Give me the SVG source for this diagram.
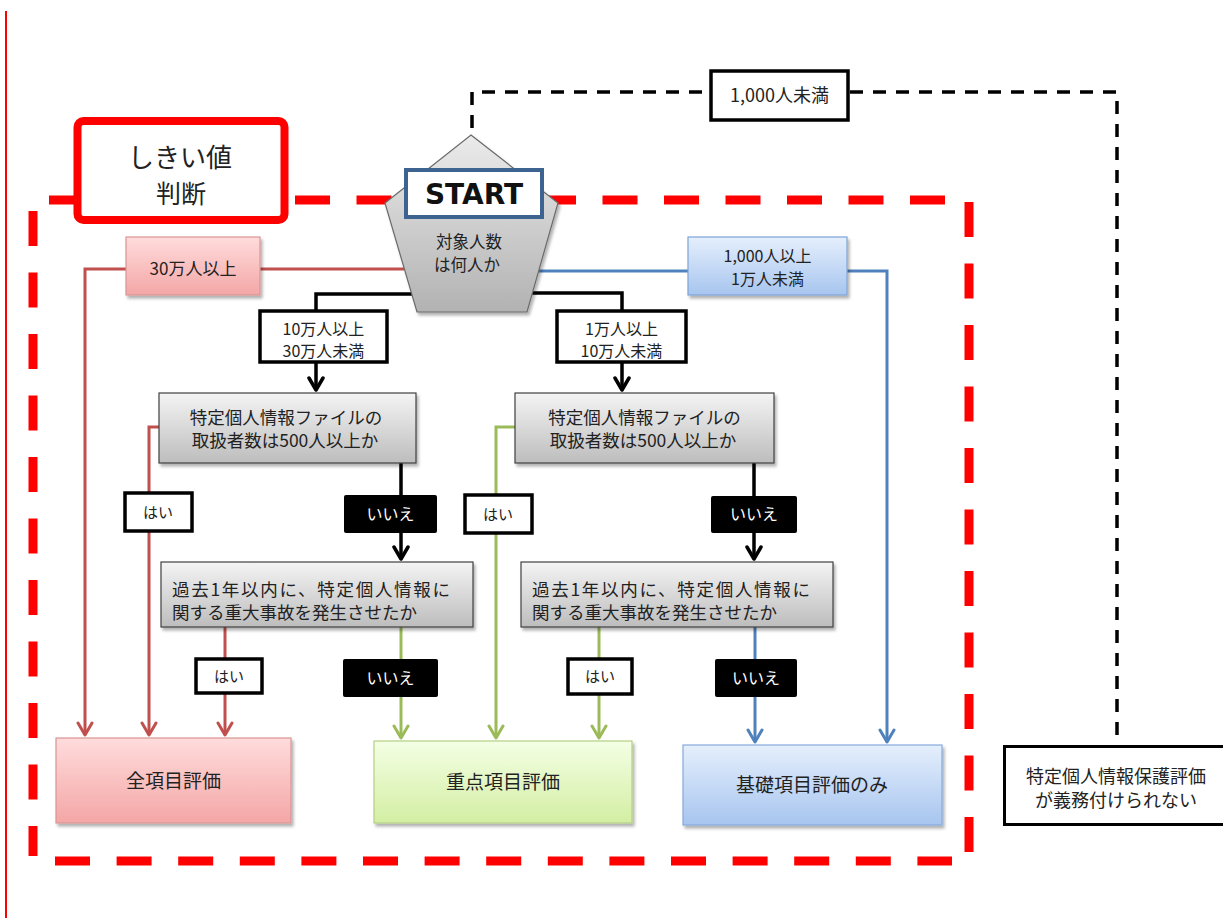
<svg xmlns="http://www.w3.org/2000/svg" width="1223" height="918" viewBox="0 0 1223 918">
  <defs>
    <linearGradient id="gGray" x1="0" y1="0" x2="0" y2="1">
      <stop offset="0" stop-color="#f4f4f4"/>
      <stop offset="1" stop-color="#bdbdbd"/>
    </linearGradient>
    <linearGradient id="gPent" x1="0" y1="0" x2="0" y2="1">
      <stop offset="0" stop-color="#ebebeb"/>
      <stop offset="1" stop-color="#b2b2b2"/>
    </linearGradient>
    <linearGradient id="gPink" x1="0" y1="0" x2="0" y2="1">
      <stop offset="0" stop-color="#ffdcdc"/>
      <stop offset="1" stop-color="#f4a6a6"/>
    </linearGradient>
    <linearGradient id="gGreen" x1="0" y1="0" x2="0" y2="1">
      <stop offset="0" stop-color="#f4ffe4"/>
      <stop offset="1" stop-color="#d3eea3"/>
    </linearGradient>
    <linearGradient id="gBlue" x1="0" y1="0" x2="0" y2="1">
      <stop offset="0" stop-color="#e5effc"/>
      <stop offset="1" stop-color="#a7c5ef"/>
    </linearGradient>
    <filter id="shadow" x="-10%" y="-10%" width="130%" height="140%">
      <feDropShadow dx="2" dy="3" stdDeviation="1.5" flood-color="#000" flood-opacity="0.3"/>
    </filter>
    <marker id="aRed" viewBox="-14 -9 16 18" refX="0" refY="0" markerWidth="16" markerHeight="18" markerUnits="userSpaceOnUse" orient="auto">
      <path d="M-12,-7 L0,0 L-12,7" fill="none" stroke="#c0504d" stroke-width="3" stroke-linejoin="round" stroke-linecap="round"/>
    </marker>
    <marker id="aGreen" viewBox="-14 -9 16 18" refX="0" refY="0" markerWidth="16" markerHeight="18" markerUnits="userSpaceOnUse" orient="auto">
      <path d="M-12,-7 L0,0 L-12,7" fill="none" stroke="#9bbb59" stroke-width="3" stroke-linejoin="round" stroke-linecap="round"/>
    </marker>
    <marker id="aBlue" viewBox="-14 -9 16 18" refX="0" refY="0" markerWidth="16" markerHeight="18" markerUnits="userSpaceOnUse" orient="auto">
      <path d="M-12,-7 L0,0 L-12,7" fill="none" stroke="#4f81bd" stroke-width="3" stroke-linejoin="round" stroke-linecap="round"/>
    </marker>
    <marker id="aBlack" viewBox="-14 -9 16 18" refX="0" refY="0" markerWidth="16" markerHeight="18" markerUnits="userSpaceOnUse" orient="auto">
      <path d="M-12,-7 L0,0 L-12,7" fill="none" stroke="#000" stroke-width="3.5" stroke-linejoin="round" stroke-linecap="round"/>
    </marker>
  </defs>
  <style>
    text { font-family: "Noto Sans CJK JP", "Noto Sans", sans-serif; fill: #222; }
    .c { text-anchor: middle; }
    .ln { fill: none; stroke-width: 3; }
    .red { stroke: #c0504d; }
    .green { stroke: #9bbb59; }
    .blue { stroke: #4f81bd; }
    .black { stroke: #000; stroke-width: 3.5; }
    .frame { fill: none; stroke: #ff0000; stroke-width: 9; }
    .lbl { fill: #fff; stroke: #000; stroke-width: 3.5; }
    .neg { fill: #000; }
    .negt { fill: #fff; font-size: 16px; text-anchor: middle; }
    .yes { font-size: 15px; text-anchor: middle; }
    .q { fill: url(#gGray); stroke: #404040; stroke-width: 1.2; filter: url(#shadow); }
    .qt { font-size: 17.5px; }
    .lt { font-size: 16px; }
    .res { font-size: 19px; text-anchor: middle; }
    .start { font-family: "DejaVu Sans", sans-serif; font-weight: bold; font-size: 28px; fill: #111; text-anchor: middle; }
  </style>

  <rect width="1223" height="918" fill="#fff"/>

  <!-- page margin rule -->
  <line x1="6" y1="11" x2="6" y2="918" stroke="#ff0000" stroke-width="2"/>

  <!-- dashed threshold frame -->
  <g id="threshold-frame" class="frame">
    <path d="M49 200 H946" stroke-dasharray="35 26.5"/>
    <path d="M969 202 V852" stroke-dasharray="35 26.5"/>
    <path d="M55 861 H952" stroke-dasharray="35 26.6"/>
    <path d="M33 211 V856" stroke-dasharray="35 26.5"/>
  </g>

  <!-- connectors -->
  <g id="connectors">
    <path class="ln red" d="M404 269 H85 V735" marker-end="url(#aRed)"/>
    <path class="ln red" d="M159 427 H149 V735" marker-end="url(#aRed)"/>
    <path class="ln red" d="M225 627 V735" marker-end="url(#aRed)"/>

    <path class="ln green" d="M401 627 V738" marker-end="url(#aGreen)"/>
    <path class="ln green" d="M515 427 H496 V738" marker-end="url(#aGreen)"/>
    <path class="ln green" d="M599 627 V738" marker-end="url(#aGreen)"/>

    <path class="ln blue" d="M539 271 H887 V742" marker-end="url(#aBlue)"/>
    <path class="ln blue" d="M755 627 V742" marker-end="url(#aBlue)"/>

    <path class="ln black" d="M412 294 H316 V390" marker-end="url(#aBlack)"/>
    <path class="ln black" d="M532 293 H622 V390" marker-end="url(#aBlack)"/>
    <path class="ln black" d="M401 463 V559" marker-end="url(#aBlack)"/>
    <path class="ln black" d="M754 463 V559" marker-end="url(#aBlack)"/>

    <path class="ln black" d="M472 128 V92 H1117 V746" stroke-width="3" stroke-dasharray="13 10"/>

    <!-- branch labels -->
    <rect x="126" y="237" width="134" height="58" fill="url(#gPink)" stroke="#d99594" stroke-width="1.2" filter="url(#shadow)"/>
    <text class="c" x="193" y="275" font-size="17">30万人以上</text>

    <rect x="688" y="237" width="159" height="58" fill="url(#gBlue)" stroke="#7fa3d6" stroke-width="1.2" filter="url(#shadow)"/>
    <text class="c lt" x="767.5" y="262">1,000人以上</text>
    <text class="c lt" x="767.5" y="285">1万人未満</text>

    <rect class="lbl" x="260" y="311" width="127" height="51"/>
    <text class="c lt" x="323.5" y="335">10万人以上</text>
    <text class="c lt" x="323.5" y="357">30万人未満</text>

    <rect class="lbl" x="557" y="311" width="129" height="51"/>
    <text class="c lt" x="621.5" y="335">1万人以上</text>
    <text class="c lt" x="621.5" y="357">10万人未満</text>

    <rect class="lbl" x="711" y="71" width="137" height="49" stroke-width="3"/>
    <text class="c" x="779.5" y="102" font-size="18">1,000人未満</text>

    <rect class="lbl" x="125" y="493" width="67" height="38" stroke-width="3"/>
    <text class="yes" x="158" y="518">はい</text>
    <rect class="lbl" x="465" y="495" width="67" height="38" stroke-width="3"/>
    <text class="yes" x="498" y="520">はい</text>
    <rect class="lbl" x="196" y="659" width="66" height="34" stroke-width="3"/>
    <text class="yes" x="229" y="682">はい</text>
    <rect class="lbl" x="568" y="659" width="64" height="35" stroke-width="3"/>
    <text class="yes" x="600" y="682">はい</text>

    <rect class="neg" x="344" y="495" width="93" height="38" rx="2"/>
    <text class="negt" x="390.5" y="520">いいえ</text>
    <rect class="neg" x="711" y="496" width="86" height="37" rx="2"/>
    <text class="negt" x="754" y="520">いいえ</text>
    <rect class="neg" x="343" y="659" width="95" height="38" rx="2"/>
    <text class="negt" x="390.5" y="684">いいえ</text>
    <rect class="neg" x="715" y="659" width="82" height="38" rx="2"/>
    <text class="negt" x="756" y="684">いいえ</text>
  </g>

  <!-- threshold heading -->
  <g id="threshold-label">
    <rect x="77.5" y="121" width="207" height="99" rx="6" fill="#fff" stroke="#ff0000" stroke-width="8"/>
    <text class="c" x="180" y="167" font-size="26">しきい値</text>
    <text class="c" x="181" y="203" font-size="25">判断</text>
  </g>

  <!-- start node -->
  <g id="start">
    <polygon points="471,135 558,203 527,312 417,312 385,203" fill="url(#gPent)" stroke="#6a6a6a" stroke-width="1.2" filter="url(#shadow)"/>
    <rect x="406" y="170" width="136" height="47" fill="#fff" stroke="#3d6491" stroke-width="4"/>
    <text class="start" x="474" y="204">START</text>
    <text class="c" x="469" y="248" font-size="16.5" fill="#333">対象人数</text>
    <text class="c" x="467" y="271" font-size="16.5" fill="#333">は何人か</text>
  </g>

  <!-- question: handlers >= 500 (left branch) -->
  <g id="q-handlers-a">
    <rect class="q" x="159" y="393" width="257" height="70"/>
    <text class="c qt" x="286" y="424">特定個人情報ファイルの</text>
    <text class="c qt" x="285" y="447">取扱者数は500人以上か</text>
  </g>

  <!-- question: handlers >= 500 (right branch) -->
  <g id="q-handlers-b">
    <rect class="q" x="515" y="393" width="259" height="70"/>
    <text class="c qt" x="644.5" y="424">特定個人情報ファイルの</text>
    <text class="c qt" x="643" y="447">取扱者数は500人以上か</text>
  </g>

  <!-- question: serious incident (left branch) -->
  <g id="q-incident-a">
    <rect class="q" x="161" y="562" width="312" height="65"/>
    <text class="qt" x="172" y="596" textLength="278">過去1年以内に、特定個人情報に</text>
    <text class="qt" x="172" y="619">関する重大事故を発生させたか</text>
  </g>

  <!-- question: serious incident (right branch) -->
  <g id="q-incident-b">
    <rect class="q" x="521" y="562" width="312" height="65"/>
    <text class="qt" x="532" y="596" textLength="278">過去1年以内に、特定個人情報に</text>
    <text class="qt" x="532" y="619">関する重大事故を発生させたか</text>
  </g>

  <!-- outcomes -->
  <g id="full-assessment">
    <rect x="56" y="738" width="235" height="85" fill="url(#gPink)" stroke="#d99594" stroke-width="1.2" filter="url(#shadow)"/>
    <text class="res" x="173.5" y="788">全項目評価</text>
  </g>

  <g id="key-assessment">
    <rect x="374" y="741" width="258" height="82" fill="url(#gGreen)" stroke="#b5cf85" stroke-width="1.2" filter="url(#shadow)"/>
    <text class="res" x="503" y="789">重点項目評価</text>
  </g>

  <g id="basic-assessment">
    <rect x="683" y="745" width="259" height="80" fill="url(#gBlue)" stroke="#86a9dc" stroke-width="1.2" filter="url(#shadow)"/>
    <text class="res" x="812" y="792">基礎項目評価のみ</text>
  </g>

  <g id="not-required">
    <rect x="1004.5" y="746.5" width="240" height="78" fill="#fff" stroke="#000" stroke-width="3"/>
    <text class="c" x="1116" y="783" font-size="18">特定個人情報保護評価</text>
    <text class="c" x="1116" y="807" font-size="18">が義務付けられない</text>
  </g>
</svg>
